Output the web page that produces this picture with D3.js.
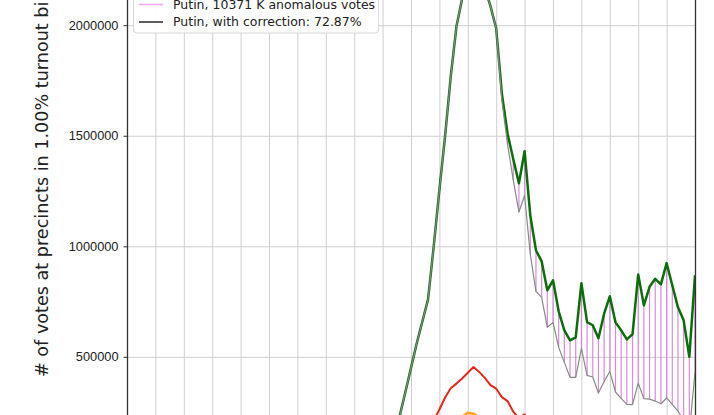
<!DOCTYPE html>
<html lang="en">
<head>
<meta charset="UTF-8">
<title>Turnout bins</title>
<script src="https://d3js.org/d3.v7.min.js"></script>
<style>
  body { margin: 0; background: #fff; overflow: hidden; }
  svg { display: block; font-family: "DejaVu Sans", sans-serif; }
  .grid line { stroke: #cfcfcf; stroke-width: 1; }
  .grid path { display: none; }
  .axis-y path { display: none; }
  .axis-y line { stroke: #333; }
  .axis-y text { font-size: 12.8px; fill: #222; }
</style>
</head>
<body>
<div id="chart"></div>
<script>
// turnout bins, 1% wide
const turnout = [40, 41, 42, 43, 44, 45, 46, 47, 48, 49, 50, 51, 52, 53, 54, 55, 56, 57, 58, 59,
  60, 61, 62, 63, 64, 65, 66, 67, 68, 69, 70, 71, 72, 73, 74, 75, 76, 77, 78, 79,
  80, 81, 82, 83, 84, 85, 86, 87, 88, 89, 90, 91, 92, 93, 94, 95, 96, 97, 98, 99, 100];

// votes per bin
const putinVotes = [8000, 10000, 15000, 22000, 32000, 50000, 80000, 125000, 232000, 340000,
  450000, 560000, 660000, 760000, 1000000, 1256000, 1498000, 1769000, 1994000, 2120000,
  2200000, 2240000, 2230000, 2170000, 2085000, 1985000, 1690000, 1510000, 1395000, 1285000,
  1430000, 1140000, 982000, 932000, 801000, 846000, 706000, 620000, 575000, 588000,
  833000, 657000, 643000, 584000, 695000, 774000, 656000, 620000, 579000, 602000,
  873000, 733000, 817000, 853000, 828000, 924000, 824000, 724000, 665000, 500000, 869000];

const putinCorrected = [8000, 10000, 15000, 22000, 32000, 50000, 80000, 125000, 232000, 340000,
  450000, 560000, 660000, 760000, 1000000, 1256000, 1498000, 1769000, 1994000, 2120000,
  2200000, 2240000, 2230000, 2170000, 2085000, 1985000, 1660000, 1460000, 1300000, 1155000,
  1230000, 964000, 796000, 769000, 634000, 656000, 543000, 475000, 407000, 407000,
  538000, 416000, 409000, 336000, 389000, 434000, 341000, 312000, 285000, 284000,
  381000, 311000, 309000, 300000, 288000, 314000, 285000, 255000, 213000, 158000, 430000];

const grudininVotes = [20000, 25000, 30000, 38000, 46000, 55000, 66000, 78000, 92000, 108000,
  125000, 145000, 165000, 188000, 212000, 262000, 316000, 358000, 379000, 402000,
  428000, 454000, 432000, 405000, 372000, 356000, 318000, 300000, 252000, 222000,
  240000, 182000, 158000, 150000, 128000, 134000, 112000, 100000, 92000, 90000,
  108000, 86000, 82000, 72000, 76000, 80000, 66000, 60000, 56000, 55000,
  66000, 52000, 50000, 48000, 46000, 48000, 42000, 38000, 32000, 25000, 42000];

const zhirinovskyVotes = [12000, 15000, 19000, 24000, 30000, 37000, 45000, 54000, 64000, 75000,
  88000, 102000, 118000, 135000, 155000, 175000, 194000, 210000, 222000, 230000,
  247000, 243000, 227000, 210000, 192000, 178000, 160000, 148000, 130000, 116000,
  120000, 98000, 86000, 80000, 70000, 72000, 60000, 54000, 50000, 48000,
  56000, 45000, 43000, 38000, 40000, 42000, 35000, 32000, 30000, 29000,
  34000, 28000, 27000, 26000, 25000, 26000, 22000, 20000, 17000, 13000, 22000];

const yTicks = [500000, 1000000, 1500000, 2000000];
const xGrid = [0, 5, 10, 15, 20, 25, 30, 35, 40, 45, 50, 55, 60, 65, 70, 75, 80, 85, 90, 95, 100];

const legendLabels = ["Putin, 10371 K anomalous votes", "Putin, with correction: 72.87%"];
const legendColors = ["#f2a8ee", "#333333"];

const W = 714, H = 415;
const plot = { left: 127, right: 695, top: -140, bottom: 467.4 };

const svg = d3.select("#chart").append("svg")
    .attr("width", W)
    .attr("height", H);

svg.append("rect").attr("width", W).attr("height", H).attr("fill", "#fff");

const x = d3.scaleLinear().domain([0, 100]).range([plot.left, plot.right]);
const y = d3.scaleLinear().domain([0, 2000000]).range([plot.bottom, 25.2]);

// grid
svg.append("g")
    .attr("class", "grid")
    .attr("transform", `translate(0,${plot.bottom})`)
    .call(d3.axisBottom(x).tickValues(xGrid).tickSize(-(plot.bottom - plot.top)).tickFormat(""));

svg.append("g")
    .attr("class", "grid")
    .attr("transform", `translate(${plot.left},0)`)
    .call(d3.axisLeft(y).tickValues(yTicks).tickSize(-(plot.right - plot.left)).tickFormat(""));

svg.append("clipPath").attr("id", "clip")
  .append("rect")
    .attr("x", plot.left).attr("y", plot.top)
    .attr("width", plot.right - plot.left)
    .attr("height", plot.bottom - plot.top);

const g = svg.append("g").attr("clip-path", "url(#clip)");

const rows = turnout.map((t, i) => ({
    t: t,
    putin: putinVotes[i],
    corr: putinCorrected[i],
    grud: grudininVotes[i],
    zhir: zhirinovskyVotes[i]
}));

// anomalous votes, one stick per bin
g.selectAll(".anom")
    .data(rows.filter(d => d.putin > d.corr))
    .enter()
    .append("line")
    .attr("class", "anom")
    .attr("x1", d => x(d.t)).attr("x2", d => x(d.t))
    .attr("y1", d => y(d.corr)).attr("y2", d => y(d.putin))
    .style("stroke", "#d67fd6")
    .style("stroke-width", 1.2)
    .style("opacity", 0.9);

function drawLine(key, color, w) {
    g.append("path")
        .datum(rows)
        .attr("fill", "none")
        .attr("stroke", color)
        .attr("stroke-width", w)
        .attr("stroke-linejoin", "round")
        .attr("d", d3.line().x(d => x(d.t)).y(d => y(d[key])));
}

drawLine("zhir", "#ffa520", 2.5);
drawLine("grud", "#e8261c", 2);
drawLine("putin", "#0b6e0b", 2.5);
drawLine("corr", "#888888", 1.2);

// spines
svg.append("line")
    .attr("x1", plot.left + 0.5).attr("x2", plot.left + 0.5)
    .attr("y1", plot.top).attr("y2", plot.bottom)
    .style("stroke", "#333").style("stroke-width", 1.3);
svg.append("line")
    .attr("x1", plot.right + 0.5).attr("x2", plot.right + 0.5)
    .attr("y1", plot.top).attr("y2", plot.bottom)
    .style("stroke", "#333").style("stroke-width", 1.3);

// y axis
svg.append("g")
    .attr("class", "axis-y")
    .attr("transform", `translate(${plot.left},0)`)
    .call(d3.axisLeft(y).tickValues(yTicks).tickSize(3.5).tickPadding(5).tickFormat(d3.format("d")));

svg.append("text")
    .attr("transform", "translate(48,377) rotate(-90)")
    .attr("text-anchor", "start")
    .style("font-size", "17.6px")
    .style("fill", "#222")
    .text("# of votes at precincts in 1.00% turnout bins");

// legend
const legend = svg.append("g");
legend.append("rect")
    .attr("x", 133.5).attr("y", -45)
    .attr("width", 245).attr("height", 78)
    .attr("rx", 3)
    .style("fill", "#fff")
    .style("fill-opacity", 0.92)
    .style("stroke", "#d6d6d6");

legendLabels.forEach((lab, i) => {
    const ly = 4.5 + i * 17.5;
    legend.append("line")
        .attr("x1", 139).attr("x2", 163)
        .attr("y1", ly).attr("y2", ly)
        .style("stroke", legendColors[i])
        .style("stroke-width", 1.6);
    legend.append("text")
        .attr("x", 173).attr("y", ly)
        .attr("dy", "0.35em")
        .style("font-size", "12.5px")
        .style("fill", "#222")
        .text(lab);
});
</script>
</body>
</html>
